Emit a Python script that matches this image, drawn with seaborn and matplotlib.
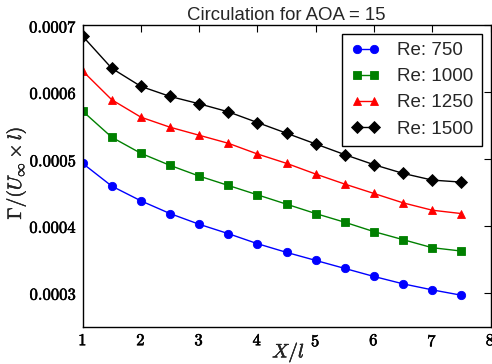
import numpy as np
import pandas as pd
import matplotlib
matplotlib.use("Agg")
import matplotlib.pyplot as plt
import matplotlib.patheffects as pe
import seaborn as sns
from matplotlib.ticker import FuncFormatter

# ---- data ----
x_vals = [1.0, 1.5, 2.0, 2.5, 3.0, 3.5, 4.0, 4.5, 5.0, 5.5, 6.0, 6.5, 7.0, 7.5]
re_750 = [0.000494, 0.000460, 0.000438, 0.000419, 0.000403, 0.000389, 0.000374,
          0.000361, 0.000349, 0.000337, 0.000325, 0.000314, 0.000305, 0.000297]
re_1000 = [0.000572, 0.000533, 0.000509, 0.000491, 0.000475, 0.000461, 0.000447,
           0.000433, 0.000419, 0.000406, 0.000392, 0.000380, 0.000368, 0.000363]
re_1250 = [0.000632, 0.000589, 0.000563, 0.000548, 0.000536, 0.000524, 0.000508,
           0.000494, 0.000478, 0.000463, 0.000449, 0.000435, 0.000424, 0.000419]
re_1500 = [0.000684, 0.000636, 0.000609, 0.000594, 0.000583, 0.000571, 0.000555,
           0.000539, 0.000523, 0.000507, 0.000492, 0.000479, 0.000469, 0.000466]
series_labels = ["Re: 750", "Re: 1000", "Re: 1250", "Re: 1500"]
x_ticks = [1, 2, 3, 4, 5, 6, 7, 8]
y_ticks = [0.0003, 0.0004, 0.0005, 0.0006, 0.0007]

rows = []
for lab, vals in zip(series_labels, [re_750, re_1000, re_1250, re_1500]):
    for xv, yv in zip(x_vals, vals):
        rows.append({"x": xv, "y": yv, "Re": lab})
df = pd.DataFrame(rows)

sns.set_style("white")
plt.rcParams["mathtext.fontset"] = "cm"
plt.rcParams["font.family"] = ["Liberation Sans", "DejaVu Sans"]

fig = plt.figure(figsize=(4.92, 3.64), dpi=100)
ax = fig.add_axes([0.168, 0.1025, 0.829, 0.8275])

palette = {"Re: 750": "#0000ff", "Re: 1000": "#008000", "Re: 1250": "#ff0000", "Re: 1500": "#000000"}
markers = {"Re: 750": "o", "Re: 1000": "s", "Re: 1250": "^", "Re: 1500": "D"}
sns.lineplot(data=df, x="x", y="y", hue="Re", style="Re", palette=palette,
             markers=markers, dashes=False, markersize=6, linewidth=1.0,
             ax=ax, legend=True)
for line in ax.lines:
    line.set_markeredgecolor(line.get_color())
    line.set_markeredgewidth(0.6)
    line.set_alpha(1)

ax.set_xlim(1, 8)
ax.set_ylim(0.00025, 0.0007)
ax.xaxis.set_major_locator(plt.FixedLocator(x_ticks))
ax.yaxis.set_major_locator(plt.FixedLocator(y_ticks))
ax.xaxis.set_major_formatter(FuncFormatter(lambda v, p: r"$\mathbf{%d}$" % int(round(v))))
ax.yaxis.set_major_formatter(FuncFormatter(lambda v, p: r"$\mathbf{%.4f}$" % v))
ax.tick_params(direction="in", length=5, width=0.8, top=True, right=True,
               labelsize=12, colors="black")
ax.tick_params(axis="y", pad=4)
ax.tick_params(axis="x", pad=4)
thick = [pe.withStroke(linewidth=0.4, foreground="black")]
for lbl in ax.get_xticklabels() + ax.get_yticklabels():
    lbl.set_path_effects(thick)
for s in ax.spines.values():
    s.set_color("black")
    s.set_linewidth(1.0)
    s.set_visible(True)

ax.set_title("Circulation for AOA = 15", fontsize=13.4, pad=4)
ax.set_xlabel(r"$X/l$", fontsize=14)
ax.xaxis.set_label_coords(0.505, -0.042)
ax.set_ylabel(r"$\Gamma/(U_\infty\times l)$", fontsize=14)
ax.yaxis.set_label_coords(-0.134, 0.51)
ax.xaxis.label.set_path_effects([pe.withStroke(linewidth=0.3, foreground="black")])
ax.yaxis.label.set_path_effects([pe.withStroke(linewidth=0.3, foreground="black")])

handles, labels = ax.get_legend_handles_labels()
leg = ax.legend(handles, labels, loc="upper right", numpoints=2, fontsize=13.5,
                frameon=True, fancybox=False, edgecolor="black", framealpha=1,
                borderpad=0.45, labelspacing=0.48, handlelength=1.55,
                handletextpad=0.9, borderaxespad=0,
                bbox_to_anchor=(0.978, 0.973))
leg.get_frame().set_linewidth(1.0)

fig.savefig("out.png", dpi=100)
